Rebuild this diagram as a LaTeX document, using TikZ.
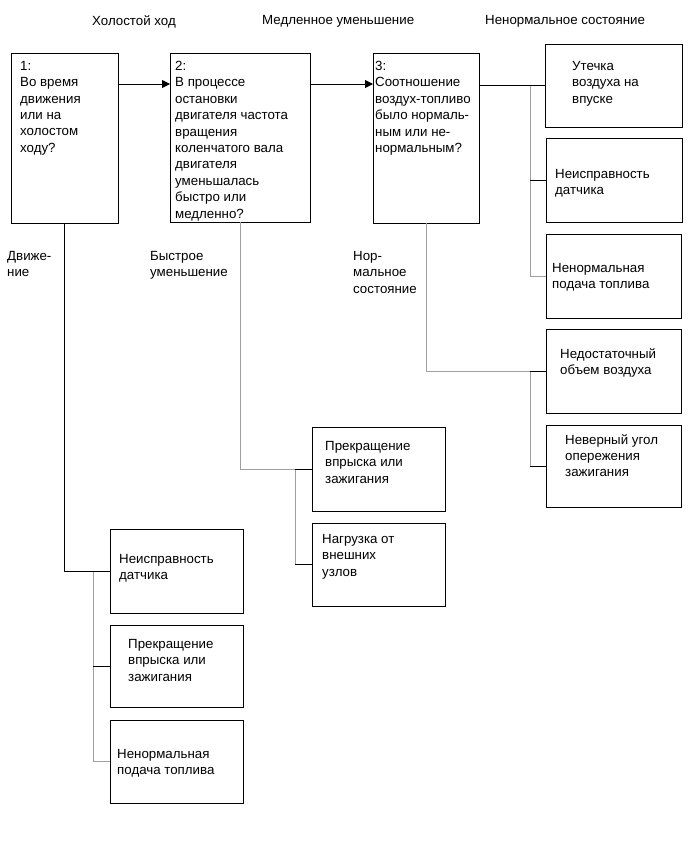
\documentclass[tikz,border=0pt]{standalone}
\usepackage{fontspec}
\setmainfont{Liberation Sans}
\usetikzlibrary{arrows.meta}
\begin{document}
\begin{tikzpicture}[x=1pt,y=-1pt,
  boxst/.style={draw, line width=1pt, anchor=north west, inner sep=0pt, outer sep=0pt},
  txt/.style={anchor=north west, inner sep=0pt, align=left, font=\fontsize{13.3}{16.4}\selectfont},
  blk/.style={draw=black, line width=0.8pt},
  gry/.style={draw=gray!75, line width=0.8pt},
  arr/.style={blk, -{Triangle[length=8pt,width=8pt]}}]
\useasboundingbox (0,0) rectangle (690,855);
% headers
\node[txt] (h1) at (92,15) {Холостой ход};
\node[txt] (h2) at (262,15) {Медленное уменьшение};
\node[txt] (h3) at (485,15) {Ненормальное состояние};
% main boxes
\node[boxst, minimum width=107pt, minimum height=170pt] (B1) at (11,53) {};
\node[boxst, minimum width=140pt, minimum height=169pt] (B2) at (170,53) {};
\node[boxst, minimum width=106pt, minimum height=170pt] (B3) at (373,53) {};
% right column
\node[boxst, minimum width=137pt, minimum height=83pt] (R1) at (545,44) {};
\node[boxst, minimum width=136pt, minimum height=84pt] (R2) at (546,138) {};
\node[boxst, minimum width=135pt, minimum height=84pt] (R3) at (546,234) {};
\node[boxst, minimum width=135pt, minimum height=84pt] (R4) at (546,329) {};
\node[boxst, minimum width=135pt, minimum height=82pt] (R5) at (546,425) {};
% middle column
\node[boxst, minimum width=133pt, minimum height=84pt] (M1) at (312,427) {};
\node[boxst, minimum width=133pt, minimum height=83pt] (M2) at (312,523) {};
% left column
\node[boxst, minimum width=133pt, minimum height=84pt] (L1) at (110,529) {};
\node[boxst, minimum width=133pt, minimum height=82pt] (L2) at (110,625) {};
\node[boxst, minimum width=133pt, minimum height=83pt] (L3) at (110,720) {};
% texts
\node[txt] (t1) at (20,61) {1:\\Во время\\движения\\или на\\холостом\\ходу?};
\node[txt] (t2) at (175,61) {2:\\В процессе\\остановки\\двигателя частота\\вращения\\коленчатого вала\\двигателя\\уменьшалась\\быстро или\\медленно?};
\node[txt] (t3) at (375,61) {3:\\Соотношение\\воздух-топливо\\было нормаль-\\ным или не-\\нормальным?};
\node[txt] (tR1) at (572,61) {Утечка\\воздуха на\\впуске};
\node[txt] (tR2) at (555,169) {Неисправность\\датчика};
\node[txt] (tR3) at (552,263) {Ненормальная\\подача топлива};
\node[txt] (tR4) at (560,348) {Недостаточный\\объем воздуха};
\node[txt] (tR5) at (565,434) {Неверный угол\\опережения\\зажигания};
\node[txt] (tM1) at (325,441) {Прекращение\\впрыска или\\зажигания};
\node[txt] (tM2) at (322,534) {Нагрузка от\\внешних\\узлов};
\node[txt] (tL1) at (119,554) {Неисправность\\датчика};
\node[txt] (tL2) at (128,639) {Прекращение\\впрыска или\\зажигания};
\node[txt] (tL3) at (117,749) {Ненормальная\\подача топлива};
% branch labels
\node[txt] (lb1) at (7,251) {Движе-\\ние};
\node[txt] (lb2) at (150,251) {Быстрое\\уменьшение};
\node[txt] (lb3) at (353,251) {Нор-\\мальное\\состояние};
% trunk coordinates
\coordinate (tR) at (530,0);
\coordinate (tM) at (295,0);
\coordinate (tL) at (93,0);
% arrows between main boxes
\draw[arr] ([yshift=-31pt]B1.north east) -- ([yshift=-31pt]B2.north west);
\draw[arr] ([yshift=-31pt]B2.north east) -- ([yshift=-31pt]B3.north west);
% right tree
\draw[gry] (tR |- R1.west) -- (tR |- R3.west);
\draw[gry] (tR |- R3.west) -- (R3.west);
\draw[blk] (B3.east |- R1.west) -- (R1.west);
\draw[blk] (tR |- R2.west) -- (R2.west);
\draw[gry] (B3.south) |- (tR |- R4.west);
\draw[gry] (tR |- R4.west) -- (tR |- R5.west);
\draw[blk] (tR |- R4.west) -- (R4.west);
\draw[blk] (tR |- R5.west) -- (R5.west);
% middle tree
\draw[gry] (B2.south) |- (tM |- M1.west);
\draw[gry] (tM |- M1.west) -- (tM |- M2.west);
\draw[blk] (tM |- M1.west) -- (M1.west);
\draw[blk] (tM |- M2.west) -- (M2.west);
% left tree
\draw[gry] (tL |- L1.west) -- (tL |- L3.west);
\draw[gry] (tL |- L3.west) -- (L3.west);
\draw[blk] (B1.south) |- (L1.west);
\draw[blk] (tL |- L2.west) -- (L2.west);
\end{tikzpicture}
\end{document}
